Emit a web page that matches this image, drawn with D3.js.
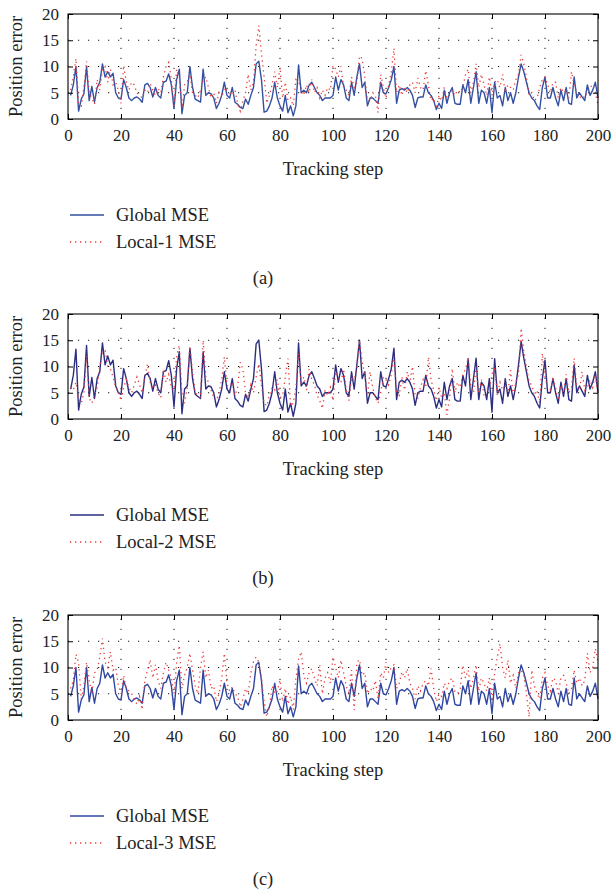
<!DOCTYPE html>
<html>
<head>
<meta charset="utf-8">
<script src="https://cdn.jsdelivr.net/npm/d3@7/dist/d3.min.js"></script>
<style>
  html, body { margin: 0; padding: 0; background: #fff; }
  svg { display: block; }
  text { font-family: "Liberation Serif", "DejaVu Serif", serif; fill: #222; }
</style>
</head>
<body>
<svg id="chart" width="614" height="894"></svg>
<script>
// Tracking steps 1..200
const steps = d3.range(1, 201);

// Global MSE used in panels (a) and (c)
const globalMSE = [
  4.5, 6.5, 10.0, 1.5, 3.8, 4.8, 10.0, 3.5, 6.2, 3.2,
  6.0, 7.0, 10.5, 8.0, 9.0, 8.0, 8.7, 5.0, 4.0, 3.8,
  7.5, 6.0, 4.0, 3.5, 4.0, 4.2, 3.8, 3.2, 6.5, 6.8,
  6.0, 4.2, 6.0, 4.5, 4.0, 7.0, 7.2, 8.6, 6.5, 2.0,
  7.5, 9.5, 1.0, 4.5, 5.0, 10.0, 6.0, 3.8, 3.5, 3.2,
  9.5, 4.5, 5.0, 4.8, 4.0, 2.0, 3.0, 4.5, 7.0, 4.5,
  4.0, 6.0, 3.2, 2.8, 2.2, 2.0, 3.8, 2.8, 4.5, 6.0,
  10.5, 11.0, 7.5, 1.3, 1.5, 2.5, 4.0, 7.0, 4.0, 2.5,
  1.5, 4.5, 1.2, 2.5, 0.6, 2.5, 10.3, 5.0, 5.5, 5.0,
  6.5, 7.0, 6.0, 5.0, 4.5, 3.5, 4.0, 4.0, 4.0, 4.5,
  8.0, 5.5, 7.5, 6.5, 4.0, 3.5, 7.0, 4.5, 8.0, 10.5,
  6.0, 7.0, 2.5, 4.0, 4.0, 3.5, 3.0, 7.0, 5.0, 4.8,
  6.0, 7.5, 10.0, 3.0, 5.5, 5.8, 5.5, 6.0, 5.5, 4.5,
  2.2, 4.0, 4.2, 4.2, 6.5, 5.0, 4.5, 3.5, 1.8, 3.0,
  2.0, 5.5, 3.0, 5.0, 6.0, 3.0, 2.8, 2.8, 6.5, 5.0,
  7.5, 3.0, 6.0, 9.0, 3.0, 5.5, 5.0, 3.0, 6.0, 1.2,
  7.0, 4.0, 4.5, 2.5, 6.0, 3.5, 5.0, 3.0, 5.0, 8.0,
  10.5, 9.0, 7.0, 5.0, 4.0, 3.5, 2.5, 1.8, 6.0, 8.0,
  4.0, 4.0, 6.0, 4.0, 2.5, 5.5, 3.5, 6.0, 3.0, 2.8,
  8.0, 4.0, 5.0, 4.2, 3.5, 6.5, 4.5, 5.5, 7.0, 4.0
];

// Global MSE in panel (b)
const globalMSEb = [
  5.7, 8.3, 13.3, 1.7, 4.7, 6.1, 14.0, 4.3, 7.9, 3.9,
  7.7, 9.0, 14.5, 10.3, 12.0, 10.3, 11.2, 6.3, 5.0, 4.7,
  9.6, 7.7, 5.0, 4.3, 5.0, 5.3, 4.7, 3.9, 8.3, 8.7,
  7.7, 5.3, 7.7, 5.7, 5.0, 9.0, 9.2, 11.1, 8.3, 2.3,
  9.6, 12.8, 1.0, 5.7, 6.3, 13.5, 7.7, 4.7, 4.3, 3.9,
  12.8, 5.7, 6.3, 6.1, 5.0, 2.3, 3.7, 5.7, 9.0, 5.7,
  5.0, 7.7, 3.9, 3.4, 2.6, 2.3, 4.7, 3.4, 5.7, 7.7,
  14.3, 15.0, 9.6, 1.4, 1.7, 3.0, 5.0, 9.0, 5.0, 3.0,
  1.7, 5.7, 1.3, 3.0, 0.5, 3.0, 14.5, 6.3, 7.0, 6.3,
  8.3, 9.0, 7.7, 6.3, 5.7, 4.3, 5.0, 5.0, 5.0, 5.7,
  10.3, 7.0, 9.6, 8.3, 5.0, 4.3, 9.0, 5.7, 10.3, 15.0,
  7.7, 9.0, 3.0, 5.0, 5.0, 4.3, 3.7, 9.0, 6.3, 6.1,
  7.7, 9.6, 13.5, 3.7, 7.0, 7.4, 7.0, 7.7, 7.0, 5.7,
  2.6, 5.0, 5.3, 5.3, 8.3, 6.3, 5.7, 4.3, 2.1, 3.7,
  2.3, 7.0, 3.7, 6.3, 7.7, 3.7, 3.4, 3.4, 8.3, 6.3,
  11.5, 3.7, 7.7, 11.6, 3.7, 7.0, 6.3, 3.7, 7.7, 1.3,
  11.5, 5.0, 5.7, 3.0, 7.7, 4.3, 6.3, 3.7, 6.3, 10.3,
  14.8, 11.6, 9.0, 6.3, 5.0, 4.3, 3.0, 2.1, 7.7, 11.2,
  5.0, 5.0, 7.7, 5.0, 3.0, 7.0, 4.3, 7.7, 3.7, 3.4,
  10.3, 5.0, 6.3, 5.3, 4.3, 8.3, 5.7, 7.0, 9.0, 5.0
];

// Local-1 MSE, panel (a)
const local1MSE = [
  5.5, 8.0, 11.5, 3.0, 2.5, 6.0, 11.0, 5.0, 4.0, 2.8,
  7.5, 5.5, 9.5, 10.0, 7.0, 9.5, 6.5, 7.0, 5.5, 3.0,
  10.2, 7.0, 5.5, 7.0, 6.5, 5.0, 4.5, 4.0, 5.5, 5.0,
  6.8, 5.5, 4.5, 5.8, 5.0, 8.0, 10.0, 10.8, 7.5, 2.5,
  9.5, 8.0, 2.0, 6.5, 7.0, 8.5, 5.0, 4.5, 4.0, 5.5,
  7.5, 8.0, 6.0, 4.0, 5.0, 3.0, 5.0, 4.0, 6.0, 5.5,
  5.0, 4.5, 5.5, 3.0, 1.5, 3.5, 5.0, 8.5, 5.5, 7.0,
  14.0, 17.8, 12.5, 8.0, 3.0, 4.5, 6.5, 9.0, 6.0, 9.8,
  4.0, 7.0, 3.5, 4.0, 2.5, 7.5, 7.0, 6.0, 4.5, 6.5,
  5.0, 7.5, 5.0, 6.0, 4.0, 5.5, 4.5, 6.0, 5.5, 10.2,
  9.5, 8.0, 10.0, 6.0, 5.5, 4.5, 8.0, 6.0, 7.0, 12.0,
  11.5, 8.0, 3.5, 3.5, 5.0, 4.5, 1.2, 8.5, 6.0, 4.0,
  6.5, 9.0, 13.5, 5.0, 6.5, 4.5, 6.0, 5.0, 6.5, 7.0,
  5.0, 7.8, 6.0, 5.5, 9.2, 6.5, 3.5, 4.0, 2.0, 4.5,
  3.5, 6.0, 4.0, 4.5, 5.5, 4.5, 5.5, 5.0, 6.0, 8.5,
  9.5, 5.0, 7.0, 10.5, 6.0, 8.5, 6.5, 4.5, 8.0, 4.5,
  7.0, 7.5, 6.0, 8.5, 5.0, 6.5, 6.0, 5.5, 7.5, 8.5,
  12.2, 10.5, 8.0, 4.5, 5.0, 3.5, 4.0, 6.0, 7.5, 8.0,
  6.5, 5.0, 7.0, 7.0, 4.0, 6.0, 5.0, 5.5, 4.0, 9.0,
  6.5, 5.0, 4.0, 4.5, 4.0, 5.5, 6.0, 6.5, 5.0, 2.7
];

// Local-2 MSE, panel (b)
const local2MSE = [
  6.0, 5.5, 7.0, 4.0, 3.0, 5.0, 12.0, 4.0, 3.0, 4.5,
  6.0, 10.0, 12.8, 13.0, 10.0, 9.5, 8.0, 6.0, 5.5, 3.5,
  6.0, 7.5, 6.0, 5.0, 6.5, 8.0, 6.5, 5.0, 8.0, 10.5,
  7.0, 6.0, 6.5, 5.0, 4.0, 9.5, 7.0, 8.5, 6.0, 5.5,
  12.0, 14.0, 5.0, 3.0, 6.0, 13.8, 9.0, 5.0, 4.5, 4.0,
  15.0, 8.0, 7.0, 5.5, 4.0, 3.5, 5.0, 7.5, 11.8, 6.5,
  5.5, 7.0, 4.5, 6.0, 10.8, 9.5, 5.0, 4.0, 6.5, 5.0,
  8.0, 10.5, 6.5, 3.0, 2.5, 4.5, 6.0, 5.5, 7.5, 4.0,
  4.5, 8.0, 11.5, 2.5, 3.0, 6.0, 12.5, 7.0, 8.0, 5.5,
  9.5, 7.5, 6.5, 4.5, 3.5, 2.0, 5.5, 4.5, 6.0, 3.5,
  9.0, 8.0, 7.0, 9.5, 5.5, 3.5, 8.0, 7.5, 9.5, 15.0,
  11.0, 8.5, 4.5, 9.0, 6.0, 4.0, 3.0, 5.0, 8.0, 7.5,
  6.5, 8.5, 12.0, 5.0, 4.5, 8.0, 5.5, 9.0, 7.0, 10.0,
  4.5, 4.0, 6.0, 7.5, 6.0, 11.8, 7.5, 5.5, 3.5, 6.0,
  4.0, 5.0, 0.8, 4.0, 9.6, 5.0, 7.0, 6.0, 8.5, 9.5,
  11.6, 6.5, 5.0, 10.0, 5.0, 7.5, 4.5, 6.0, 5.5, 8.5,
  10.0, 4.5, 7.0, 5.5, 6.5, 5.0, 9.3, 4.5, 7.0, 8.5,
  17.3, 13.0, 10.0, 7.0, 6.5, 4.5, 5.5, 3.0, 12.5, 8.0,
  6.0, 5.5, 7.5, 6.0, 3.5, 6.5, 5.0, 8.5, 5.0, 6.0,
  11.6, 6.0, 5.5, 9.0, 5.5, 6.0, 7.5, 6.0, 8.5, 4.5
];

// Local-3 MSE, panel (c)
const local3MSE = [
  6.0, 7.5, 12.5, 11.0, 4.0, 6.5, 11.0, 7.5, 5.0, 9.0,
  9.5, 12.0, 15.5, 11.0, 10.0, 13.0, 9.5, 10.0, 6.5, 5.0,
  8.5, 6.0, 5.5, 5.0, 4.0, 3.0, 4.5, 2.0, 7.5, 9.5,
  11.5, 8.0, 10.5, 7.5, 6.0, 9.0, 11.0, 9.5, 8.0, 5.0,
  11.0, 14.2, 6.0, 8.5, 10.0, 12.7, 9.5, 6.5, 5.0, 10.0,
  13.0, 8.0, 9.5, 6.0, 6.5, 3.5, 5.0, 8.0, 12.7, 7.0,
  5.5, 6.3, 5.0, 4.5, 2.5, 4.0, 6.0, 5.0, 9.0, 11.1,
  12.0, 11.0, 8.0, 3.5, 0.6, 2.5, 6.5, 5.0, 5.5, 7.6,
  3.5, 6.0, 3.0, 4.5, 2.0, 8.0, 11.5, 13.0, 8.5, 7.0,
  9.0, 9.8, 8.0, 6.5, 10.4, 5.0, 8.0, 9.0, 7.0, 12.0,
  10.0, 8.0, 11.4, 9.0, 6.5, 5.0, 9.5, 1.9, 11.0, 11.5,
  8.5, 9.0, 5.0, 6.0, 5.5, 7.5, 4.0, 9.0, 8.0, 11.0,
  9.0, 10.0, 10.5, 6.0, 7.0, 9.2, 8.0, 9.8, 7.0, 6.0,
  4.0, 6.5, 5.5, 7.0, 7.5, 6.5, 9.8, 6.0, 3.5, 5.0,
  4.5, 7.0, 6.0, 7.5, 8.0, 5.5, 5.0, 6.0, 10.4, 8.0,
  9.5, 6.0, 8.0, 10.5, 5.5, 8.0, 7.0, 5.5, 8.0, 4.0,
  9.0, 12.0, 14.5, 10.0, 8.0, 11.4, 7.0, 8.5, 6.0, 9.0,
  9.5, 8.5, 5.0, 0.6, 9.5, 6.5, 5.0, 4.0, 8.0, 9.0,
  6.5, 5.5, 8.0, 7.6, 5.0, 8.0, 8.5, 7.0, 5.0, 6.0,
  9.5, 7.0, 8.0, 6.5, 7.5, 12.7, 9.0, 10.0, 13.6, 11.0
];

const xTicks = [0, 20, 40, 60, 80, 100, 120, 140, 160, 180, 200];
const yTicks = [0, 5, 10, 15, 20];
const panelTags = ["(a)", "(b)", "(c)"];
const localNames = ["Local-1 MSE", "Local-2 MSE", "Local-3 MSE"];
const xTitle = "Tracking step";
const yTitle = "Position error";
const globalName = "Global MSE";

const panels = [
  { tag: panelTags[0], glob: globalMSE,  local: local1MSE, localName: localNames[0], top: 14,  gColor: "#3350a3" },
  { tag: panelTags[1], glob: globalMSEb, local: local2MSE, localName: localNames[1], top: 314, gColor: "#2b2f82" },
  { tag: panelTags[2], glob: globalMSE,  local: local3MSE, localName: localNames[2], top: 615, gColor: "#3046a0" }
];

const left = 68, right = 598, plotH = 105;
const redColor = "#ec3b3b";
const tickFont = "17px", titleFont = "18.5px";

const svg = d3.select("#chart");
const x = d3.scaleLinear().domain([0, 200]).range([left, right]);

panels.forEach(p => {
  const y = d3.scaleLinear().domain([0, 20]).range([p.top + plotH, p.top]);
  const g = svg.append("g");

  // dotted grid
  g.append("g").selectAll("line").data(xTicks.slice(1, -1)).join("line")
    .attr("x1", d => x(d)).attr("x2", d => x(d))
    .attr("y1", y(0)).attr("y2", y(20))
    .attr("stroke", "#111").attr("stroke-width", 1)
    .attr("stroke-dasharray", "1.2,8.8");
  g.append("g").selectAll("line").data(yTicks.slice(1, -1)).join("line")
    .attr("x1", x(0)).attr("x2", x(200))
    .attr("y1", d => y(d)).attr("y2", d => y(d))
    .attr("stroke", "#111").attr("stroke-width", 1)
    .attr("stroke-dasharray", "1.2,8.8");

  const line = (vals) => d3.line().x((d, i) => x(steps[i])).y(d => y(d))(vals);

  // series
  g.append("path").attr("d", line(p.glob))
    .attr("fill", "none").attr("stroke", p.gColor).attr("stroke-width", 1.4)
    .attr("stroke-linejoin", "round");
  g.append("path").attr("d", line(p.local))
    .attr("fill", "none").attr("stroke", redColor).attr("stroke-width", 1.3)
    .attr("stroke-dasharray", "1.3,3.7");

  // axes with inward ticks on all four sides
  const ax = (sel) => { sel.select(".domain").remove(); sel.selectAll("line").attr("stroke", "#000"); };
  g.append("g").attr("transform", `translate(0,${y(0)})`)
    .call(d3.axisBottom(x).tickValues(xTicks).tickSize(-5).tickPadding(10).tickFormat(d3.format("d")))
    .call(ax)
    .selectAll("text").style("font-size", tickFont).style("font-family", '"Liberation Serif", serif').attr("fill", "#222");
  g.append("g").attr("transform", `translate(0,${y(20)})`)
    .call(d3.axisTop(x).tickValues(xTicks).tickSize(-5).tickFormat(""))
    .call(ax);
  g.append("g").attr("transform", `translate(${x(0)},0)`)
    .call(d3.axisLeft(y).tickValues(yTicks).tickSize(-5).tickPadding(9).tickFormat(d3.format("d")))
    .call(ax)
    .selectAll("text").style("font-size", tickFont).style("font-family", '"Liberation Serif", serif').attr("fill", "#222");
  g.append("g").attr("transform", `translate(${x(200)},0)`)
    .call(d3.axisRight(y).tickValues(yTicks).tickSize(-5).tickFormat(""))
    .call(ax);

  // frame
  g.append("rect").attr("x", x(0)).attr("y", y(20))
    .attr("width", x(200) - x(0)).attr("height", y(0) - y(20))
    .attr("fill", "none").attr("stroke", "#000").attr("stroke-width", 1.1);

  // titles
  g.append("text").attr("x", (left + right) / 2).attr("y", p.top + 161)
    .attr("text-anchor", "middle").style("font-size", titleFont).text(xTitle);
  g.append("text")
    .attr("transform", `translate(22,${p.top + plotH / 2}) rotate(-90)`)
    .attr("text-anchor", "middle").style("font-size", titleFont).text(yTitle);

  // legend
  const lg = g.append("g");
  lg.append("line").attr("x1", 70).attr("x2", 104)
    .attr("y1", p.top + 201).attr("y2", p.top + 201)
    .attr("stroke", p.gColor).attr("stroke-width", 1.4);
  lg.append("text").attr("x", 116).attr("y", p.top + 207)
    .style("font-size", titleFont).text(globalName);
  lg.append("line").attr("x1", 70).attr("x2", 104)
    .attr("y1", p.top + 228).attr("y2", p.top + 228)
    .attr("stroke", redColor).attr("stroke-width", 1.3).attr("stroke-dasharray", "1.3,3.7");
  lg.append("text").attr("x", 116).attr("y", p.top + 234)
    .style("font-size", titleFont).text(p.localName);

  // panel tag
  g.append("text").attr("x", 263).attr("y", p.top + 270)
    .attr("text-anchor", "middle").style("font-size", titleFont).text(p.tag);
});
</script>
</body>
</html>
